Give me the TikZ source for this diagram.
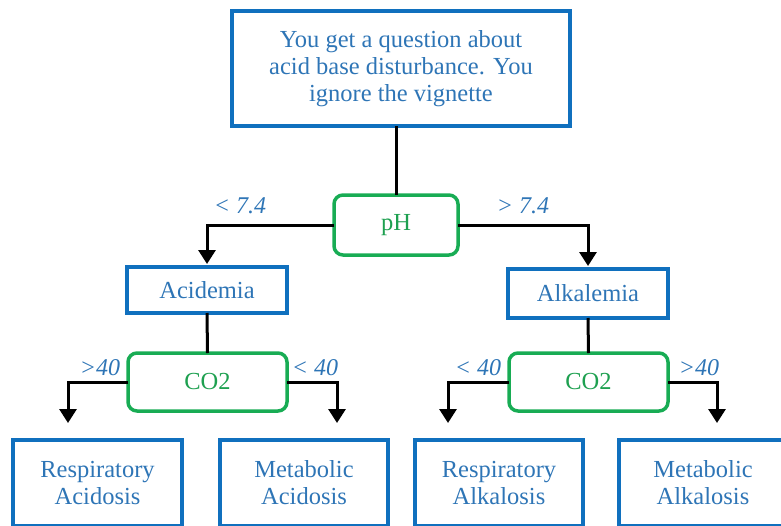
\documentclass[tikz,border=0pt]{standalone}
\usepackage{fontspec}
\setmainfont{Liberation Serif}
\usepackage{xcolor}
\usetikzlibrary{arrows.meta,calc,positioning}
\definecolor{boxblue}{RGB}{16,112,190}
\definecolor{txtblue}{RGB}{46,117,182}
\definecolor{boxgreen}{RGB}{24,172,84}
\definecolor{txtgreen}{RGB}{30,160,80}
\tikzset{
  bluebox/.style={draw=boxblue,line width=3.5pt,text=txtblue,align=center,inner sep=0pt,outer sep=0pt,
    font=\fontsize{24.5}{27}\selectfont},
  greenbox/.style={draw=boxgreen,line width=3.5pt,rounded corners=9pt,text=txtgreen,inner sep=0pt,outer sep=0pt,
    font=\fontsize{24.5}{27}\selectfont},
  cond/.style={text=txtblue,font=\fontsize{24}{27}\selectfont\itshape},
  link/.style={line width=3pt,black},
  arr/.style={link,-{Triangle[width=17pt,length=14pt]}}
}
\begin{document}
\begin{tikzpicture}[x=1pt,y=-1pt]
  \useasboundingbox (0,0) rectangle (781,525);
  \clip (0,0) rectangle (781,525);
  \node[bluebox,minimum width=338pt,minimum height=115pt] (q) at (401,68.5)
    {You get a question about\\acid base disturbance. You\\ignore the vignette};
  \node[greenbox,minimum width=124pt,minimum height=60pt] (ph) at (396,225) {pH};
  \node[bluebox,minimum width=160pt,minimum height=46pt] (acid) at (207,290) {Acidemia};
  \node[bluebox,minimum width=160pt,minimum height=49pt] (alk) at (588,293.5) {Alkalemia};
  \node[greenbox,minimum width=159pt,minimum height=58pt] (co2a) at (207.5,382) {CO2};
  \node[greenbox,minimum width=159pt,minimum height=58pt] (co2b) at (588.5,382) {CO2};
  \node[bluebox,minimum width=169pt,minimum height=86pt] (resacid) at (97.5,483) {Respiratory\\Acidosis};
  \node[bluebox,minimum width=168pt,minimum height=86pt] (metacid) at (304,483) {Metabolic\\Acidosis};
  \node[bluebox,minimum width=168pt,minimum height=86pt] (resalk) at (499,483) {Respiratory\\Alkalosis};
  \node[bluebox,minimum width=168pt,minimum height=86pt] (metalk) at (703,483) {Metabolic\\Alkalosis};
  \coordinate (ra) at (68,423);
  \coordinate (ma) at (337,423);
  \coordinate (rk) at (448,423);
  \coordinate (mk) at (717,423);
  \draw[link] (ph.north) -- (ph.north |- q.south);
  \draw[arr,shorten >=3pt] (ph.west) -| (acid.north);
  \draw[arr,shorten >=3pt] (ph.east) -| (alk.north);
  \draw[link] (acid.south) -- (co2a.north);
  \draw[link] (alk.south) -- (co2b.north);
  \draw[arr] (co2a.west) -| (ra);
  \draw[arr] (co2a.east) -| (ma);
  \draw[arr] (co2b.west) -| (rk);
  \draw[arr] (co2b.east) -| (mk);
  \node[cond] (lt74) at (240,206) {< 7.4};
  \node[cond] (gt74) at (523,206) {> 7.4};
  \node[cond] (ra40) at (100,368) {>40};
  \node[cond] (ma40) at (315,368) {< 40};
  \node[cond] (rk40) at (478,368) {< 40};
  \node[cond] (mk40) at (699,368) {>40};
\end{tikzpicture}
\end{document}
